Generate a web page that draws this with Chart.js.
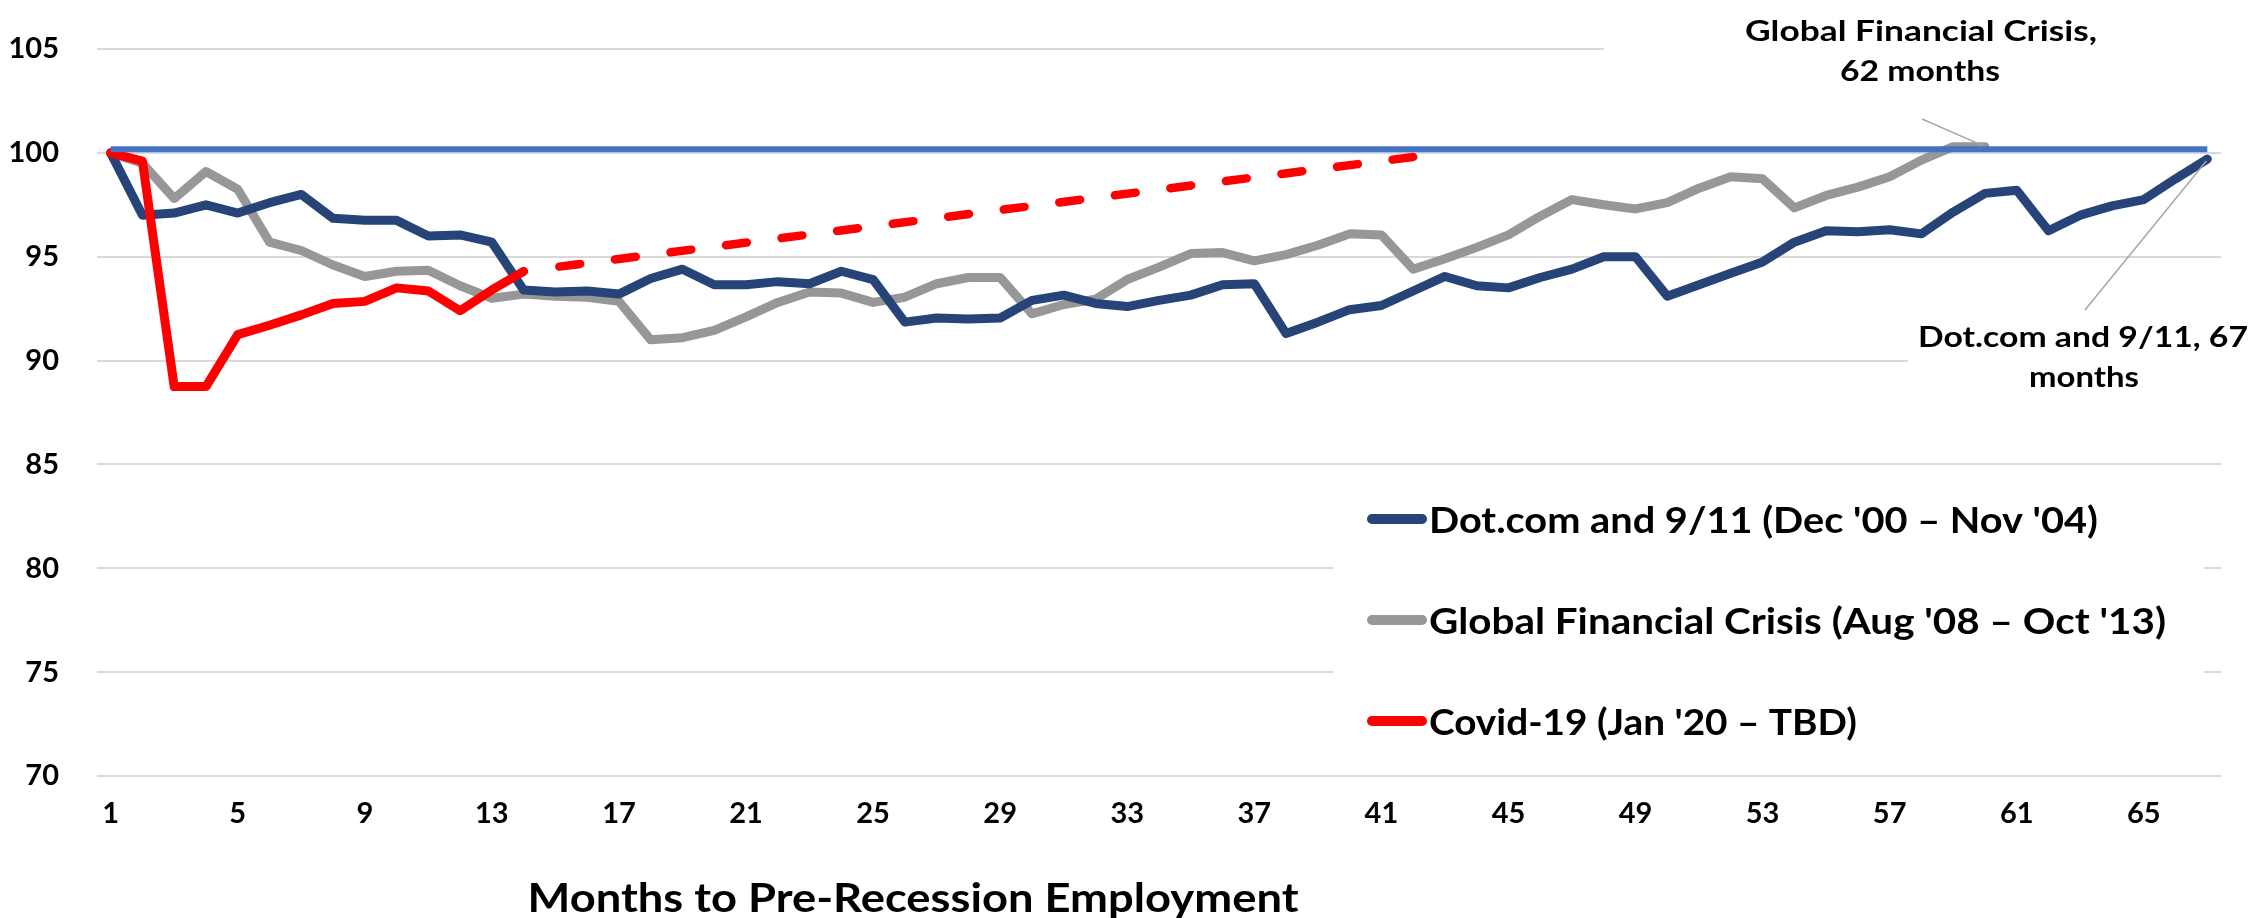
<!DOCTYPE html>
<html>
<head>
<meta charset="utf-8">
<script src="https://cdn.jsdelivr.net/npm/chart.js@4.4.1/dist/chart.umd.min.js"></script>
<style>
  html, body { margin: 0; padding: 0; background: #ffffff; }
  #wrap { width: 2255px; height: 918px; position: relative; }
  canvas { display: block; }
</style>
</head>
<body>
<div id="wrap"><canvas id="c" width="2255" height="918"></canvas></div>
<script>
// ---------------- DATA ----------------
const months = [1,2,3,4,5,6,7,8,9,10,11,12,13,14,15,16,17,18,19,20,21,22,23,24,25,26,27,28,29,30,
  31,32,33,34,35,36,37,38,39,40,41,42,43,44,45,46,47,48,49,50,51,52,53,54,55,56,57,58,59,60,
  61,62,63,64,65,66,67];
const xTickLabels = [1,5,9,13,17,21,25,29,33,37,41,45,49,53,57,61,65];
const yTickLabels = [70,75,80,85,90,95,100,105];

const seriesNames = [
  "Dot.com and 9/11 (Dec '00 \u2013 Nov '04)",
  "Global Financial Crisis (Aug '08 \u2013 Oct '13)",
  "Covid-19 (Jan '20 \u2013 TBD)"
];

const dotcomValues = [100,97.0,97.1,97.5,97.1,97.6,98.0,96.85,96.75,96.75,96.0,96.05,95.7,93.4,93.3,
  93.35,93.2,93.95,94.4,93.65,93.65,93.8,93.7,94.3,93.9,91.85,92.05,92.0,92.05,92.9,93.15,92.75,92.6,
  92.9,93.15,93.65,93.7,91.3,91.85,92.45,92.65,93.35,94.05,93.6,93.5,94.0,94.4,95.0,95.0,93.1,93.65,
  94.2,94.75,95.7,96.25,96.2,96.3,96.1,97.15,98.05,98.2,96.25,97.0,97.45,97.75,98.75,99.7];

const gfcValues = [100,99.5,97.8,99.1,98.25,95.7,95.3,94.6,94.05,94.3,94.35,93.6,93.0,93.2,93.1,
  93.05,92.85,91.0,91.1,91.45,92.1,92.8,93.3,93.25,92.8,93.05,93.7,94.0,94.0,92.25,92.7,92.95,93.9,
  94.5,95.15,95.2,94.8,95.1,95.55,96.1,96.05,94.4,94.9,95.45,96.05,96.95,97.75,97.5,97.3,97.6,98.3,
  98.85,98.75,97.35,97.95,98.35,98.85,99.65,100.3,100.3];

const covidValues = [100,99.6,88.75,88.75,91.25,91.7,92.2,92.75,92.85,93.5,93.35,92.4,93.4,94.3];

const covidTrendMonths = [15,42];
const covidTrendValues = [94.5,99.8];

const baselineMonths = [1,67];
const baselineValues = [100.17,100.17];

const annotationGFC = ["Global Financial Crisis,", "62 months"];
const annotationDotcom = ["Dot.com and 9/11, 67", "months"];
const xAxisTitle = "Months to Pre-Recession Employment";

// ---------------- CHART ----------------
const FONT = "Lato";
const pts = (xs, ys) => ys.map((y, i) => ({ x: xs[i], y: y }));

// draws text with a horizontal stretch so that it spans the wanted width
function drawText(ctx, text, x, y, size, width, align) {
  ctx.save();
  ctx.font = "bold " + size + "px " + FONT;
  const w = ctx.measureText(text).width;
  const sx = width / w;
  ctx.translate(x, y);
  ctx.scale(sx, 1);
  ctx.textAlign = align;
  ctx.textBaseline = 'alphabetic';
  ctx.fillStyle = '#000000';
  ctx.fillText(text, 0, 0);
  ctx.restore();
}

const overlay = {
  id: 'overlay',
  beforeDatasetsDraw(chart) {
    const ctx = chart.ctx;
    ctx.save();
    ctx.fillStyle = '#ffffff';
    ctx.fillRect(1333, 478, 871, 290);
    ctx.fillRect(1604, 0, 651, 95);
    ctx.fillRect(1908, 300, 347, 95);
    ctx.restore();
  },
  afterDatasetsDraw(chart) {
    const ctx = chart.ctx;
    const xs = chart.scales.x, ys = chart.scales.y;
    ctx.save();
    ctx.strokeStyle = '#A6A6A6';
    ctx.lineWidth = 1.5;
    const gI = gfcValues.length - 1;
    ctx.beginPath();
    ctx.moveTo(1922, 119);
    ctx.lineTo(xs.getPixelForValue(months[gI]) - 2, ys.getPixelForValue(gfcValues[gI]) - 1);
    ctx.stroke();
    const dI = dotcomValues.length - 1;
    ctx.beginPath();
    ctx.moveTo(2085, 310);
    ctx.lineTo(xs.getPixelForValue(months[dI]) - 1, ys.getPixelForValue(dotcomValues[dI]) + 2);
    ctx.stroke();
    ctx.restore();
  },
  afterDraw(chart) {
    const ctx = chart.ctx;
    // legend
    const legendWidths = [669, 737, 428];
    [0, 1, 2].forEach((di, k) => {
      const ds = chart.data.datasets[di];
      const cy = 519 + k * 101;
      ctx.save();
      ctx.strokeStyle = ds.borderColor;
      ctx.lineWidth = 10;
      ctx.lineCap = 'round';
      ctx.beginPath();
      ctx.moveTo(1372, cy);
      ctx.lineTo(1422, cy);
      ctx.stroke();
      ctx.restore();
      drawText(ctx, ds.label, 1429, 533 + k * 101, 36, legendWidths[k], 'left');
    });
    // annotations
    drawText(ctx, annotationGFC[0], 1921, 41, 29, 352, 'center');
    drawText(ctx, annotationGFC[1], 1920, 81, 29, 160, 'center');
    drawText(ctx, annotationDotcom[0], 2083, 347, 29, 330, 'center');
    drawText(ctx, annotationDotcom[1], 2084, 387, 29, 110, 'center');
    // x axis title
    drawText(ctx, xAxisTitle, 913, 912, 40, 771, 'center');
  }
};

const common = {
  pointRadius: 0,
  pointHoverRadius: 0,
  fill: false,
  tension: 0,
  borderWidth: 9,
  borderJoinStyle: 'round',
  borderCapStyle: 'round'
};

function build() {
  new Chart(document.getElementById('c'), {
    type: 'line',
    data: {
      datasets: [
        Object.assign({}, common, { label: seriesNames[0], data: pts(months, dotcomValues), borderColor: '#264478', order: 3 }),
        Object.assign({}, common, { label: seriesNames[1], data: pts(months, gfcValues), borderColor: '#979797', order: 4 }),
        Object.assign({}, common, { label: seriesNames[2], data: pts(months, covidValues), borderColor: '#FF0000', order: 1 }),
        Object.assign({}, common, { label: 'Covid-19 path', data: pts(covidTrendMonths, covidTrendValues), borderColor: '#FF0000', borderWidth: 8.5, borderDash: [21, 35], borderDashOffset: -4, order: 2 }),
        Object.assign({}, common, { label: 'Pre-recession level', data: pts(baselineMonths, baselineValues), borderColor: '#4472C4', borderWidth: 6, borderCapStyle: 'butt', order: 0 })
      ]
    },
    options: {
      responsive: false,
      animation: false,
      devicePixelRatio: 1,
      layout: { padding: { top: 49, right: 34, left: 0, bottom: 0 } },
      plugins: { legend: { display: false }, tooltip: { enabled: false }, title: { display: false } },
      events: [],
      scales: {
        x: {
          type: 'linear',
          min: 0.57,
          max: 67.43,
          grid: { display: false },
          border: { display: false },
          afterBuildTicks: (s) => { s.ticks = xTickLabels.map(v => ({ value: v })); },
          afterFit: (s) => { s.height = 142; },
          ticks: {
            autoSkip: false,
            maxRotation: 0,
            padding: 12,
            color: '#000000',
            font: { family: FONT, size: 29, weight: 'bold' },
            callback: (v) => String(v)
          }
        },
        y: {
          min: 70,
          max: 105,
          afterBuildTicks: (s) => { s.ticks = yTickLabels.map(v => ({ value: v })); },
          afterFit: (s) => { s.width = 97; },
          grid: { color: '#D9D9D9', lineWidth: 2, drawTicks: false },
          border: { display: false },
          ticks: {
            padding: 38,
            color: '#000000',
            font: { family: FONT, size: 29, weight: 'bold', lineHeight: 0.6 },
            callback: (v) => String(v)
          }
        }
      }
    },
    plugins: [overlay]
  });
}

if (document.fonts && document.fonts.load) {
  Promise.all([
    document.fonts.load("bold 30px Lato"),
    document.fonts.load("bold 40px Lato")
  ]).then(build, build);
} else {
  build();
}
</script>
</body>
</html>
